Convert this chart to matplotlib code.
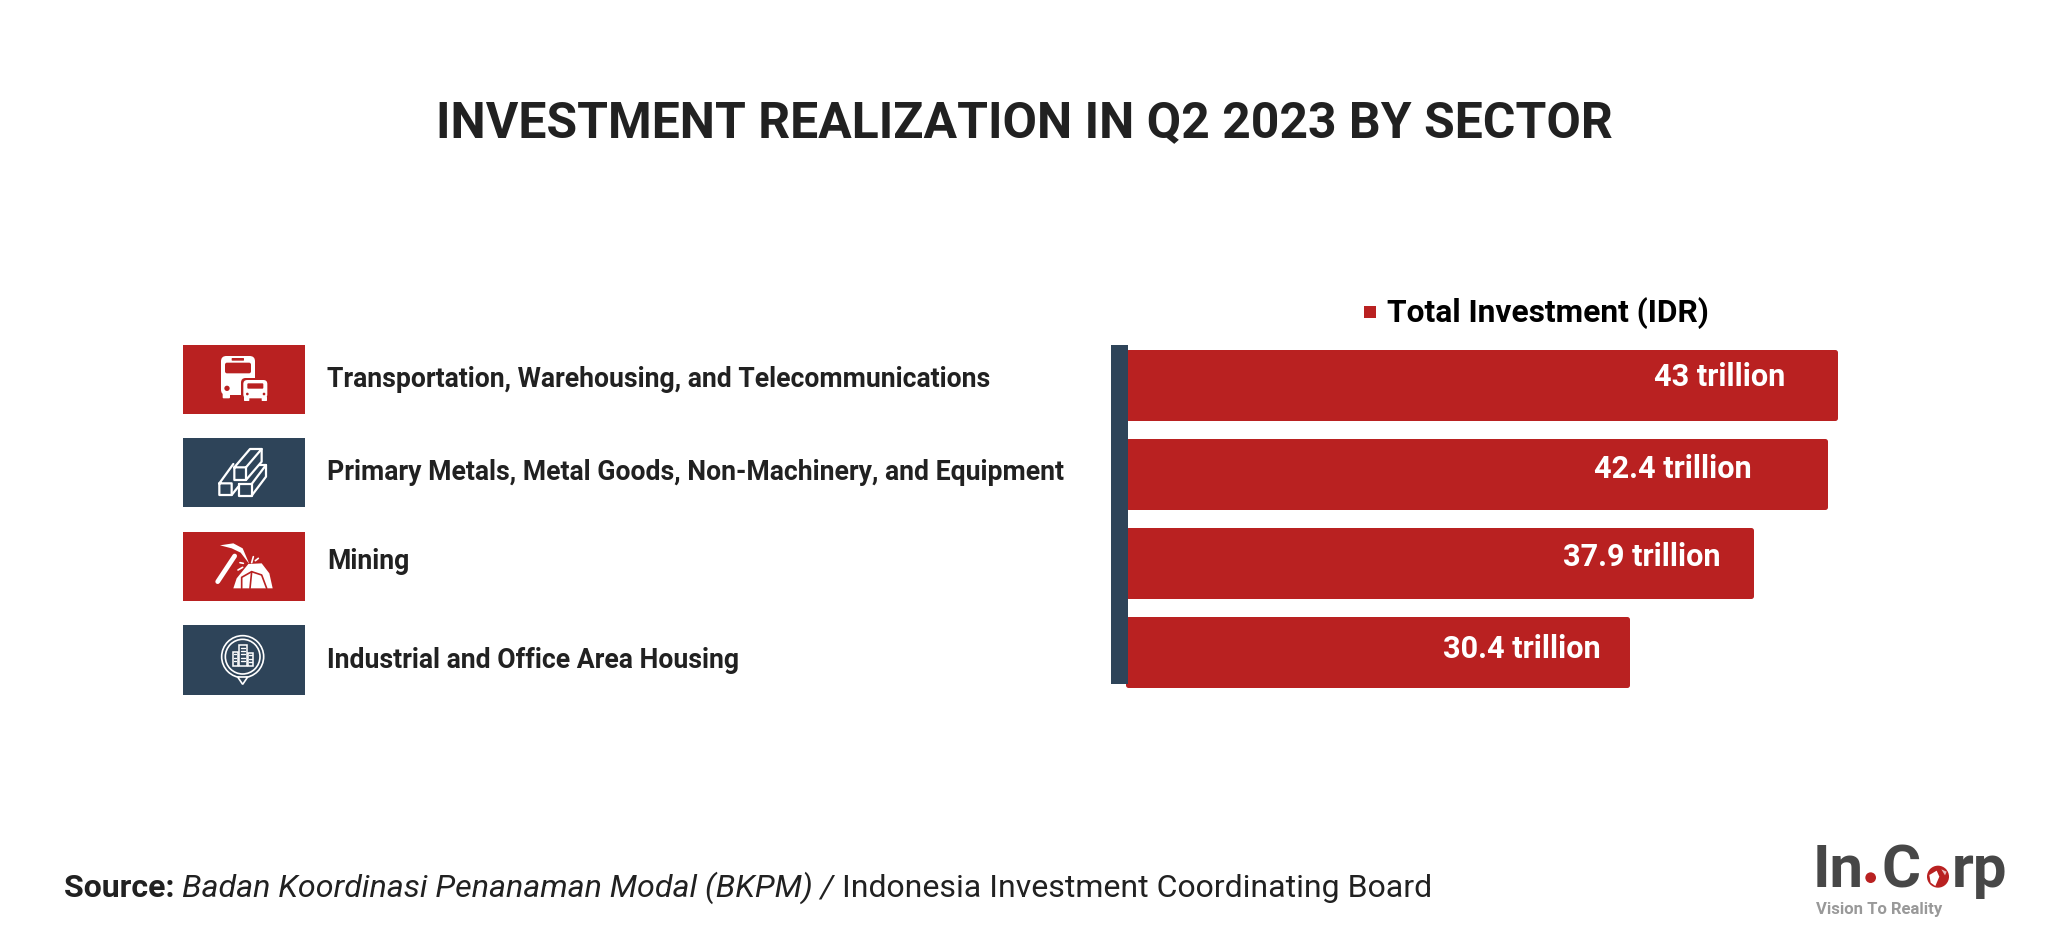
import matplotlib
matplotlib.use('Agg')
import matplotlib.pyplot as plt
from matplotlib.patches import Rectangle, FancyBboxPatch, Circle, Polygon
from matplotlib.transforms import Affine2D

plt.rcParams['font.family'] = ['Roboto', 'DejaVu Sans']

RED = '#B92121'
NAVY = '#2E4459'
INK = '#212121'

# Chart values
sectors = [
    'Transportation, Warehousing, and Telecommunications',
    'Primary Metals, Metal Goods, Non-Machinery, and Equipment',
    'Mining',
    'Industrial and Office Area Housing',
]
investment = [43, 42.4, 37.9, 30.4]
value_labels = ['43 trillion', '42.4 trillion', '37.9 trillion', '30.4 trillion']
series_name = 'Total Investment (IDR)'

# Layout, in pixels of the 2048x936 canvas
label_baselines = [387, 480, 569, 668]
icon_tops = [344.5, 437.5, 531.5, 625]
icon_colors = [RED, NAVY, RED, NAVY]
value_insets = [49, 73, 30, 27]
value_rises = [8, 5, 5, 3]

W, H = 2048, 936
fig = plt.figure(figsize=(W / 100, H / 100), dpi=100, facecolor='white')


def px_axes(x0, y0, x1, y1):
    return fig.add_axes([x0 / W, 1 - y1 / H, (x1 - x0) / W, (y1 - y0) / H])


# Overlay in pixel coordinates for the icons and page text
page = px_axes(0, 0, W, H)
page.set_xlim(0, W)
page.set_ylim(H, 0)
page.axis('off')

# Bars: wide round-joined edge gives the soft corners
ax = px_axes(1128, 340, 1834.5, 696)
bars = ax.barh(range(len(investment)), investment, height=66 / 89,
               color=RED, edgecolor=RED, linewidth=3.6, clip_on=False)
for bar in bars:
    bar.set_joinstyle('round')
ax.set_xlim(0, 43)
ax.set_ylim(3.5, -0.5)
ax.axis('off')
for i, (v, text) in enumerate(zip(investment, value_labels)):
    ax.annotate(text, (v, i), xytext=(-value_insets[i], value_rises[i]), textcoords='offset pixels',
                ha='right', va='center', color='white', fontsize=22.1, fontweight='bold',
                annotation_clip=False)

# Navy spine on top of the bars
page.set_zorder(3)
ax.set_zorder(2)
page.patch.set_alpha(0)
page.add_patch(Rectangle((1111, 345), 17, 339, color=NAVY, lw=0))

# Title
page.text(1024, 137, 'INVESTMENT REALIZATION IN Q2 2023 BY SECTOR', ha='center', va='baseline',
          fontsize=35.95, fontweight='bold', color=INK)

# Legend
page.add_patch(Rectangle((1364, 306), 12, 12, color=RED, lw=0))
page.text(1387, 322, series_name, ha='left', va='baseline', fontsize=22.85,
          fontweight='bold', color='black')

# Row labels and icon tiles
for name, base, top, col in zip(sectors, label_baselines, icon_tops, icon_colors):
    page.add_patch(Rectangle((183, top), 122, 69.5, color=col, lw=0))
    page.text(327, base, name, ha='left', va='baseline', fontsize=19.17,
              fontweight='bold', color=INK)

crop = Affine2D().scale(1 / 3).translate(170, 330) + page.transData


def rbox(x0, y0, x1, y1, r, **kw):
    page.add_patch(FancyBboxPatch((x0, y0), x1 - x0, y1 - y0, boxstyle=f'round,pad=0,rounding_size={r}',
                                  transform=crop, lw=0, **kw))


def line(pts, lw=1.6, color='white'):
    page.plot(*zip(*pts), transform=crop, color=color, lw=lw, solid_capstyle='round',
              solid_joinstyle='round')


# Bus and car
rbox(153, 78, 255, 195, 16, color='white')
rbox(158, 190, 180, 205, 3, color='white')
rbox(165, 98, 243, 130, 6, color=RED)
rbox(185, 84, 222, 92, 2, color=RED)
page.add_patch(Circle((171, 175), 8, transform=crop, color=RED, lw=0))
rbox(213, 144, 298, 218, 14, color=RED)
rbox(220, 150, 292, 205, 12, color='white')
rbox(222, 200, 238, 213, 2, color='white')
rbox(275, 200, 291, 213, 2, color='white')
rbox(232, 160, 280, 176, 3, color=RED)
page.add_patch(Circle((232, 192), 4, transform=crop, color=RED, lw=0))
page.add_patch(Circle((282, 192), 4, transform=crop, color=RED, lw=0))

# Metal beams
line([(193, 412), (228, 412), (228, 450), (193, 450), (193, 412), (240, 357), (275, 357),
      (228, 412)])
line([(275, 357), (275, 395), (228, 450)])
line([(148, 460), (185, 460), (185, 495), (148, 495), (148, 460), (190, 402)])
line([(185, 495), (205, 470)])
line([(208, 462), (245, 462), (245, 497), (208, 497), (208, 462)])
line([(245, 462), (288, 405), (288, 440), (245, 497)])
line([(268, 405), (288, 405)])

# Pickaxe and rock
line([(143, 755), (194, 678)], lw=3.4)
page.add_patch(Polygon([(150, 646), (190, 640), (218, 655), (238, 702), (212, 668), (185, 655)],
                       transform=crop, color='white', lw=0))
page.add_patch(Polygon([(190, 775), (200, 745), (235, 702), (275, 700), (298, 730), (308, 775)],
                       transform=crop, color='white', lw=0))
line([(215, 775), (215, 742), (245, 725), (275, 735), (290, 775)], lw=1.2, color=RED)
line([(245, 725), (240, 775)], lw=1.2, color=RED)
for seg in [[(245, 698), (250, 680)], [(256, 692), (265, 685)], [(204, 720), (218, 712)],
            [(210, 698), (220, 700)]]:
    line(seg, lw=1.2)

# Location pin with buildings
page.add_patch(Circle((218, 980), 63, transform=crop, fc='none', ec='white', lw=1.2))
page.add_patch(Circle((218, 980), 52, transform=crop, fc='none', ec='white', lw=1.2))
page.add_patch(Polygon([(203, 1041), (218, 1063), (233, 1041)], transform=crop, fc=NAVY, ec='white', lw=1.2))
for bx0, by0, bx1 in [(188, 965, 204), (207, 945, 230), (233, 968, 250)]:
    page.add_patch(Rectangle((bx0, by0), bx1 - bx0, 1008 - by0, transform=crop, fc='none', ec='white', lw=1.1))
    for wy in range(by0 + 8, 1002, 10):
        line([(bx0 + 5, wy), (bx1 - 5, wy)], lw=1.0)

# Source line, three styles run together
fig.canvas.draw()
rend = fig.canvas.get_renderer()
x = 64
for part, kw in [('Source: ', dict(fontweight='bold', fontsize=23.05)),
                 ('Badan Koordinasi Penanaman Modal (BKPM) / ', dict(fontstyle='italic', fontsize=23.2)),
                 ('Indonesia Investment Coordinating Board', dict(fontsize=23))]:
    t = page.text(x, 897, part.replace(' ', '\u00a0'), ha='left', va='baseline',
                  color=INK, **kw)
    x = t.get_window_extent(rend).x1

# Logo
DARK = '#474747'
logo = Affine2D().scale(1 / 3).translate(1780, 830) + page.transData
page.text(1813, 887, 'In', fontsize=43, fontweight='bold', color=DARK, va='baseline')
page.text(1881, 887, 'C', fontsize=43, fontweight='bold', color=DARK, va='baseline')
page.text(1952, 887, 'rp', fontsize=43, fontweight='bold', color=DARK, va='baseline')
page.add_patch(Circle((272, 143), 16, transform=logo, color=RED, lw=0))
page.add_patch(Circle((472, 142), 37, transform=logo, color='white', lw=0, zorder=4))
page.add_patch(Circle((474, 140), 33, transform=logo, color=RED, lw=0, zorder=4))
page.add_patch(Polygon([(448, 135), (470, 122), (478, 140), (466, 168), (452, 158)], transform=logo,
                       color='white', lw=0, zorder=5))
page.add_patch(Polygon([(484, 118), (500, 125), (495, 136)], transform=logo,
                       color='#E8BDBD', lw=0, zorder=5))
page.text(1816, 914, 'Vision To Reality', fontsize=12, fontweight='bold', color='#999999', va='baseline')

fig.savefig('out.png', dpi=100, facecolor='white')
